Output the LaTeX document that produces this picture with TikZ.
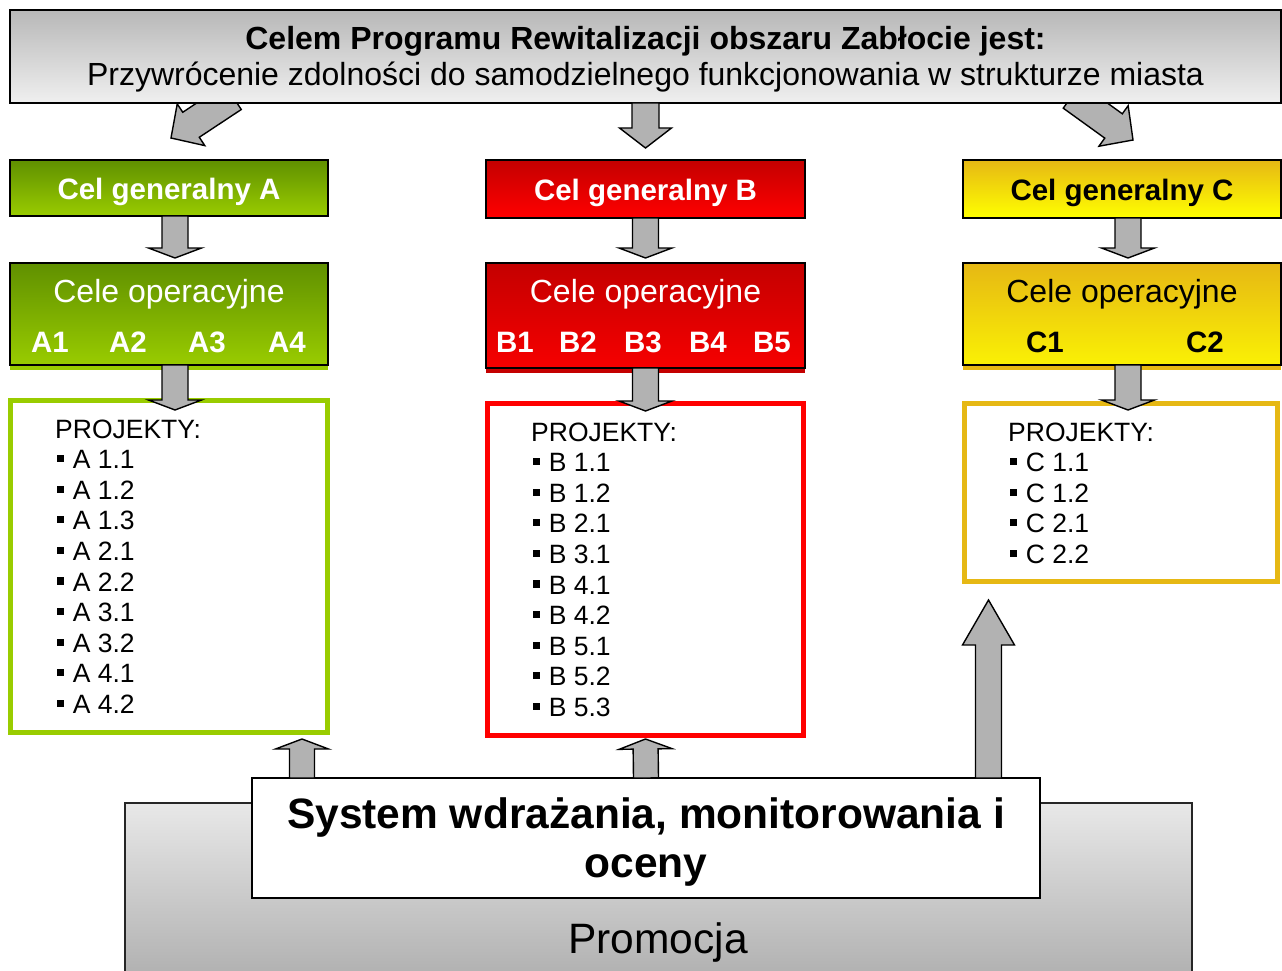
\documentclass[tikz,border=0pt]{standalone}
\usepackage{fontspec}
\setmainfont{Liberation Sans}
\usetikzlibrary{calc,backgrounds}

\definecolor{greenDark}{RGB}{96,144,0}
\definecolor{greenLight}{RGB}{153,204,0}
\definecolor{redDark}{RGB}{196,0,0}
\definecolor{redLight}{RGB}{255,0,0}
\definecolor{goldDark}{RGB}{230,184,20}
\definecolor{goldLight}{RGB}{255,255,0}
\definecolor{arrowGray}{RGB}{178,178,178}

\newcommand\sq{\rule[0.24em]{0.27em}{0.27em}\hspace{0.32em}}
% block arrow: from, to, half shaft, half head, head length
\newcommand\blockarrow[5]{%
  \coordinate (hb) at ($(#2)!#5!(#1)$);
  \filldraw[fatarrow] ($(#1)!#3!90:(#2)$) -- ($(hb)!#3!90:(#2)$) -- ($(hb)!#4!90:(#2)$)
    -- (#2) -- ($(hb)!#4!-90:(#2)$) -- ($(hb)!#3!-90:(#2)$) -- ($(#1)!#3!-90:(#2)$) -- cycle;
}

\tikzset{
  box/.style={draw=black, line width=1.6pt, outer sep=0pt, anchor=north west, inner sep=0pt, align=center},
  genbox/.style={box, text height=22pt, text depth=0pt,
    font=\bfseries\fontsize{29.5}{34}\selectfont},
  opbox/.style={box},
  optitle/.style={anchor=base, inner sep=0pt, font=\fontsize{32}{36}\selectfont},
  code/.style={anchor=base, inner sep=0pt, font=\bfseries\fontsize{29.5}{34}\selectfont},
  projbox/.style={draw, line width=5pt, fill=white, anchor=north west, inner sep=0pt},
  listhead/.style={anchor=base west, inner sep=0pt, font=\fontsize{26.5}{30}\selectfont},
  listitem/.style={listhead},
  fatarrow/.style={draw=black, line width=1.4pt, fill=arrowGray, line join=miter},
}

\begin{document}
\begin{tikzpicture}[x=1pt, y=-1pt]
\useasboundingbox (0,0) rectangle (1282,971);

\node[box, top color=black!28, bottom color=black!6, minimum width=1271pt, minimum height=93pt] (cel) at (10,10) {};
\node[align=center, inner sep=0pt, font=\fontsize{32}{36.5}\selectfont] (celT) at ($(cel.center)+(0,2.5)$)
  {\textbf{Celem Programu Rewitalizacji obszaru Zabłocie jest:}\\
   Przywrócenie zdolności do samodzielnego funkcjonowania w strukturze miasta};

% cele generalne
\node[genbox, top color=greenDark, bottom color=greenLight, text=white, minimum width=318pt, minimum height=56pt] (genA) at (10,160) {Cel generalny A};
\node[genbox, top color=redDark, bottom color=redLight, text=white, minimum width=319pt, minimum height=58pt] (genB) at (486,160) {Cel generalny B};
\node[genbox, top color=goldDark, bottom color=goldLight, minimum width=318pt, minimum height=58pt] (genC) at (963,160) {Cel generalny C};

% cele operacyjne
\node[opbox, top color=greenDark, bottom color=greenLight, minimum width=318pt, minimum height=102pt] (opA) at (10,263) {};
\node[opbox, top color=redDark, middle color=redLight, bottom color=redLight!85!redDark, minimum width=319pt, minimum height=105pt] (opB) at (486,263) {};
\node[opbox, top color=goldDark, middle color=goldLight, bottom color=goldLight!80!goldDark, minimum width=318pt, minimum height=102pt] (opC) at (963,263) {};
\begin{scope}[on background layer]
  \fill[greenLight] (opA.south west) rectangle ($(opA.south east)+(0,5)$);
  \fill[redDark] (opB.south west) rectangle ($(opB.south east)+(0,5)$);
  \fill[goldDark] (opC.south west) rectangle ($(opC.south east)+(0,5)$);
\end{scope}
\node[optitle, text=white] (opAt) at ($(opA.north)+(0,39)$) {Cele operacyjne};
\node[optitle, text=white] (opBt) at ($(opB.north)+(0,39)$) {Cele operacyjne};
\node[optitle] (opCt) at ($(opC.north)+(0,39)$) {Cele operacyjne};
\foreach \c/\x in {A1/50, A2/128, A3/207, A4/287}
  \node[code, text=white] (op\c) at (\x,352) {\c};
\foreach \c/\x in {B1/515, B2/578, B3/643, B4/708, B5/772}
  \node[code, text=white] (op\c) at (\x,352) {\c};
\foreach \c/\x in {C1/1045, C2/1205}
  \node[code] (op\c) at (\x,352) {\c};

% projekty
\node[projbox, draw=greenLight, minimum width=317pt, minimum height=332pt] (projA) at (8,398) {};
\node[projbox, draw=redLight, minimum width=316pt, minimum height=332pt] (projB) at (485,401) {};
\node[projbox, draw=goldDark, minimum width=313pt, minimum height=178pt] (projC) at (962,401) {};

\node[listhead] (hdA) at (55,438) {PROJEKTY:};
\foreach \t [count=\i] in {A 1.1, A 1.2, A 1.3, A 2.1, A 2.2, A 3.1, A 3.2, A 4.1, A 4.2}
  \node[listitem] (itA\i) at (57,{438+30.6*\i}) {\sq\t};
\node[listhead] (hdB) at (531,441) {PROJEKTY:};
\foreach \t [count=\i] in {B 1.1, B 1.2, B 2.1, B 3.1, B 4.1, B 4.2, B 5.1, B 5.2, B 5.3}
  \node[listitem] (itB\i) at (533,{441+30.6*\i}) {\sq\t};
\node[listhead] (hdC) at (1008,441) {PROJEKTY:};
\foreach \t [count=\i] in {C 1.1, C 1.2, C 2.1, C 2.2}
  \node[listitem] (itC\i) at (1010,{441+30.6*\i}) {\sq\t};

% system i promocja
\node[box, draw=black!85, top color=black!9, bottom color=black!31, minimum width=1067pt, minimum height=175pt] (promo) at (125,803) {};
\node[anchor=base, inner sep=0pt, font=\fontsize{42.5}{42}\selectfont] (promoT) at (658,953) {Promocja};
\node[box, fill=white, minimum width=788pt, minimum height=120pt] (sys) at (252,778) {};
\node[align=center, inner sep=0pt, font=\bfseries\fontsize{42.5}{49}\selectfont] (sysT) at ($(sys.center)+(0,4)$)
  {System wdrażania, monitorowania i\\oceny};

% strzalki
\begin{scope}[on background layer]
  \coordinate (celL) at ($(cel.south west)+(223,-6)$);
  \coordinate (genAin) at ($(genA.north)+(2,-22)$);
  \blockarrow{celL}{genAin}{15pt}{25pt}{24pt}
  \coordinate (celR) at ($(cel.south east)+(-209,-7)$);
  \coordinate (genCin) at ($(genC.north)+(11,-20)$);
  \blockarrow{celR}{genCin}{15pt}{25pt}{24pt}
\end{scope}
\coordinate (genBin) at ($(genB.north)+(0,-12)$);
\blockarrow{cel.south}{genBin}{13.5pt}{26pt}{20pt}

\coordinate (a0) at ($(genA.south)+(6,0)$);
\coordinate (a1) at ($(opA.north)+(6,-5)$);
\blockarrow{a0}{a1}{13pt}{26.5pt}{10pt}
\coordinate (b1) at ($(opB.north)+(0,-5)$);
\blockarrow{genB.south}{b1}{13pt}{26.5pt}{10pt}
\coordinate (c0) at ($(genC.south)+(6,0)$);
\coordinate (c1) at ($(opC.north)+(6,-5)$);
\blockarrow{c0}{c1}{13pt}{26.5pt}{10pt}

\coordinate (a2) at ($(opA.south)+(6,0)$);
\coordinate (a3) at ($(projA.north)+(6,12)$);
\blockarrow{a2}{a3}{13pt}{26.5pt}{10pt}
\coordinate (b3) at ($(projB.north)+(0,10)$);
\blockarrow{opB.south}{b3}{13pt}{26.5pt}{10pt}
\coordinate (c2) at ($(opC.south)+(6,0)$);
\coordinate (c3) at ($(projC.north)+(7,9)$);
\blockarrow{c2}{c3}{13pt}{26.5pt}{10pt}

\coordinate (sysA) at ($(sys.north west)+(50,0)$);
\coordinate (projAout) at ($(projA.south)+(133,4)$);
\blockarrow{sysA}{projAout}{12.5pt}{26.5pt}{10pt}
\coordinate (projBout) at ($(projB.south)+(0,1)$);
\blockarrow{sys.north}{projBout}{12.5pt}{26.5pt}{10pt}
\coordinate (sysC) at ($(sys.north east)+(-51.5,0)$);
\coordinate (projCout) at (sysC |- 0,600);
\blockarrow{sysC}{projCout}{13pt}{26pt}{45pt}
\end{tikzpicture}
\end{document}
